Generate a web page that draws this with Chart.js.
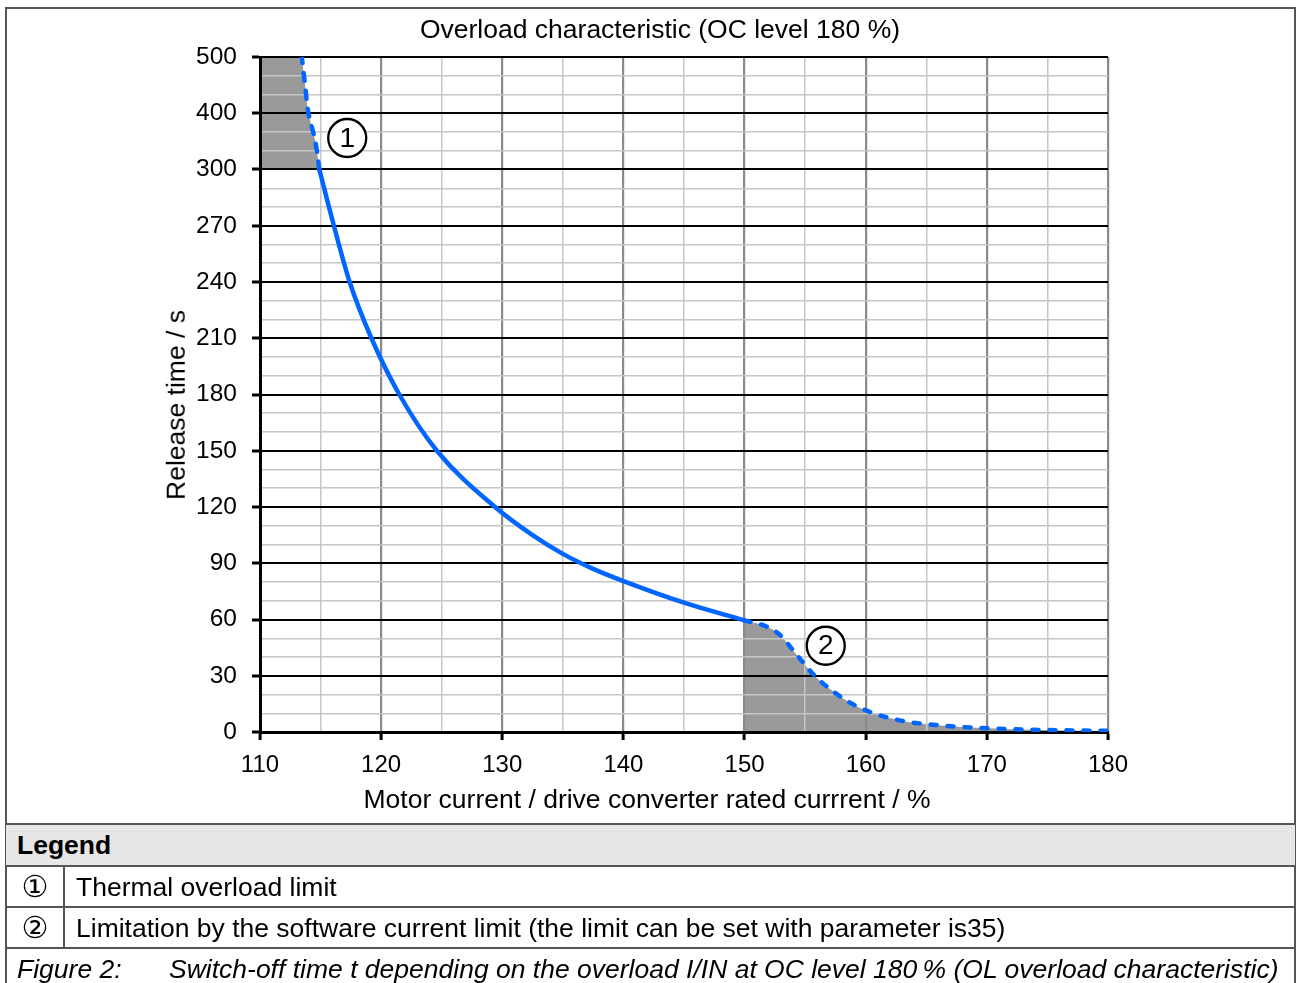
<!DOCTYPE html>
<html><head><meta charset="utf-8">
<script src="https://cdn.jsdelivr.net/npm/chart.js@4.4.1/dist/chart.umd.min.js"></script>
<style>
html,body{margin:0;padding:0;background:#fff;overflow:hidden;width:1298px;height:983px;font-family:"Liberation Sans",Arial,sans-serif;color:#000}
#frame{position:absolute;left:5px;top:7px;width:1291px;height:1000px;border:2px solid #555;box-sizing:border-box}
#wrap{position:absolute;left:0;top:0;width:1298px;height:825px}
.c{position:absolute;white-space:nowrap;line-height:1;transform:translate(-50%,-50%);font-size:26.5px}
.row{position:absolute;left:6px;width:1289px;border-top:2px solid #555;box-sizing:border-box}
.txt{position:absolute;white-space:nowrap;font-size:26.5px;line-height:1;top:50%;transform:translateY(-50%)}
.num{position:absolute;left:29px;top:50%;transform:translate(-50%,-50%);font-size:30px;line-height:1;font-family:"DejaVu Sans","Noto Sans CJK JP",sans-serif}
</style></head>
<body>
<div id="frame"></div>
<div id="wrap"><canvas id="cv" width="1298" height="825"></canvas></div>
<div class="c" style="left:660px;top:29px">Overload characteristic (OC level 180 %)</div>
<div class="c" style="left:176px;top:405px;transform:translate(-50%,-50%) rotate(-90deg)">Release time / s</div>
<div class="c" style="left:647px;top:799px">Motor current / drive converter rated currrent / %</div>

<div class="row" style="top:823px;height:42px;background:#e6e6e6"><div class="txt" style="left:11px;font-weight:bold">Legend</div></div>
<div class="row" style="top:865px;height:41px"><div class="num">①</div><div style="position:absolute;left:57px;top:0;height:82px;border-left:2px solid #555"></div><div class="txt" style="left:70px">Thermal overload limit</div></div>
<div class="row" style="top:906px;height:41px"><div class="num">②</div><div class="txt" style="left:70px">Limitation by the software current limit (the limit can be set with parameter is35)</div></div>
<div class="row" style="top:947px;height:41px"><div class="txt" style="left:11px;font-style:italic">Figure 2:</div><div class="txt" style="left:163px;font-style:italic">Switch-off time t depending on the overload I/IN at OC level 180&#8201;% (OL overload characteristic)</div></div>

<script>
// ---- data ----
const yTickValues = [0, 30, 60, 90, 120, 150, 180, 210, 240, 270, 300, 400, 500];
const xMin = 110, xMax = 180, xStep = 5;

// thermal overload limit (dashed, upper part)
const thermalX = [114.9, 114.55, 114.0, 113.72, 113.45];
const thermalY = [300, 352, 400, 450, 500];

// main release curve (solid)
const mainX = [114.9, 116.1, 117.4, 119.2, 121.5, 124.6, 129.4, 132.5, 135, 137.5, 140, 145, 150];
const mainY = [300, 270, 240, 210, 180, 150, 120, 105, 95, 87, 80.5, 69, 59.5];

// software current limit (dashed, lower part)
const limitX = [150, 151.8, 152.9, 154.3, 155.7, 157.3, 159.0, 160.6, 162.8, 165.5, 169.6, 173.7, 180];
const limitY = [59.5, 56.3, 51.9, 41.2, 30.6, 21.7, 14.6, 10.1, 6.2, 3.9, 2.1, 1.2, 0.6];

const markers = [{x: 117.2, y: 356, label: '1'}, {x: 156.7, y: 46, label: '2'}];

// ---- piecewise y scale (equal spacing per labelled band) ----
const nBands = yTickValues.length - 1;
function yToDecimal(v) {
  for (let i = 0; i < nBands; i++) {
    const a = yTickValues[i], b = yTickValues[i + 1];
    if (v <= b || i === nBands - 1) return (i + (v - a) / (b - a)) / nBands;
  }
}
function decimalToY(d) {
  const f = d * nBands;
  const i = Math.min(nBands - 1, Math.max(0, Math.floor(f)));
  const a = yTickValues[i], b = yTickValues[i + 1];
  return a + (f - i) * (b - a);
}
const yGridValues = [];
for (let i = 0; i < nBands; i++) {
  const a = yTickValues[i], b = yTickValues[i + 1];
  yGridValues.push(a, a + (b - a) / 3, a + 2 * (b - a) / 3);
}
yGridValues.push(yTickValues[nBands]);
const isMajorY = v => yTickValues.some(t => Math.abs(t - v) < 1e-6);

class BandLinearScale extends Chart.LinearScale {
  buildTicks() { return yGridValues.map(v => ({value: v})); }
  getPixelForValue(v) { return this.getPixelForDecimal(yToDecimal(v)); }
  getValueForPixel(p) { return decimalToY(this.getDecimalForPixel(p)); }
}
BandLinearScale.id = 'bandLinear';
BandLinearScale.defaults = Chart.LinearScale.defaults;
Chart.register(BandLinearScale);

const toPts = (xs, ys) => xs.map((x, i) => ({x, y: ys[i]}));

const BLUE = '#0066ff';
const FILL = '#9a9a9a';
const FONT = '"Liberation Sans", Arial, sans-serif';

const markerPlugin = {
  id: 'markers',
  afterDatasetsDraw(chart) {
    const {ctx, scales: {x, y}} = chart;
    markers.forEach(m => {
      const px = x.getPixelForValue(m.x), py = y.getPixelForValue(m.y);
      ctx.save();
      ctx.beginPath();
      ctx.arc(px, py, 19, 0, Math.PI * 2);
      ctx.fillStyle = '#fff';
      ctx.fill();
      ctx.lineWidth = 2.3;
      ctx.strokeStyle = '#000';
      ctx.stroke();
      ctx.fillStyle = '#000';
      ctx.font = '28px ' + FONT;
      ctx.textAlign = 'center';
      ctx.textBaseline = 'middle';
      ctx.fillText(m.label, px, py + 1);
      ctx.restore();
    });
  }
};

new Chart(document.getElementById('cv'), {
  type: 'line',
  data: {
    datasets: [
      {
        data: toPts(mainX, mainY),
        borderColor: BLUE, borderWidth: 4.5, pointRadius: 0,
        cubicInterpolationMode: 'monotone', fill: false, borderCapStyle: 'round'
      },
      {
        data: toPts(thermalX, thermalY), indexAxis: 'y',
        borderColor: BLUE, borderWidth: 4.5, pointRadius: 0,
        borderDash: [8, 10], borderCapStyle: 'round',
        cubicInterpolationMode: 'monotone',
        fill: {value: xMin}, backgroundColor: FILL
      },
      {
        data: toPts(limitX, limitY),
        borderColor: BLUE, borderWidth: 4.5, pointRadius: 0,
        borderDash: [6, 11], borderCapStyle: 'round',
        cubicInterpolationMode: 'monotone',
        fill: 'origin', backgroundColor: FILL
      }
    ]
  },
  options: {
    responsive: false,
    animation: false,
    events: [],
    layout: {padding: {top: 57, right: 190, left: 0, bottom: 0}},
    plugins: {
      legend: {display: false},
      tooltip: {enabled: false},
      title: {display: false},
      filler: {drawTime: 'beforeDraw'}
    },
    scales: {
      x: {
        type: 'linear', min: xMin, max: xMax,
        afterFit: s => { s.height = 93; },
        ticks: {
          stepSize: xStep, maxTicksLimit: 100, autoSkip: false, maxRotation: 0,
          padding: 11, color: '#000',
          font: {family: FONT, size: 24},
          callback: v => (v % 10 === 0 ? String(v) : '')
        },
        grid: {
          color: c => (c.tick && c.tick.value % 10 === 0 ? '#8a8a8a' : '#c6c6c6'),
          lineWidth: c => (c.tick && c.tick.value % 10 === 0 ? 2.2 : 1.5),
          tickColor: c => (c.tick && c.tick.value % 10 === 0 ? '#000' : 'rgba(0,0,0,0)'),
          tickLength: 8, tickWidth: 3
        },
        border: {color: '#000', width: 3}
      },
      y: {
        type: 'bandLinear', min: 0, max: 500,
        afterFit: s => { s.width = 260; },
        ticks: {
          autoSkip: false, padding: 15, color: '#000',
          font: {family: FONT, size: 24.5},
          callback: v => (isMajorY(v) ? String(v) : '')
        },
        grid: {
          color: c => (c.tick && isMajorY(c.tick.value) ? '#000' : '#c6c6c6'),
          lineWidth: c => (c.tick && isMajorY(c.tick.value) ? 2 : 1.5),
          tickColor: c => (c.tick && isMajorY(c.tick.value) ? '#000' : 'rgba(0,0,0,0)'),
          tickLength: 8, tickWidth: 3
        },
        border: {color: '#000', width: 3}
      }
    }
  },
  plugins: [markerPlugin]
});
</script>
</body></html>
